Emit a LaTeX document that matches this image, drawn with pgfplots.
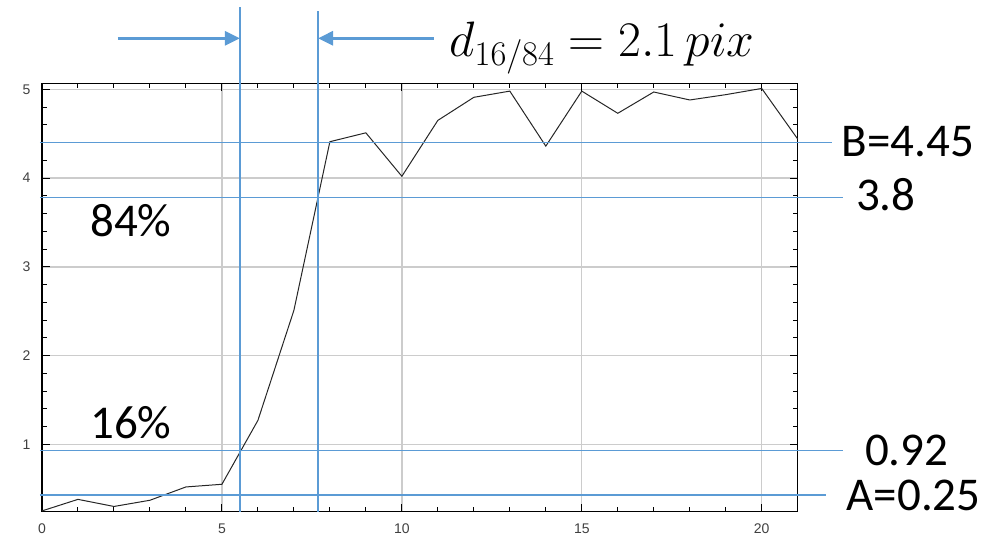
\documentclass[border=0pt]{standalone}
\usepackage{fontspec}
\setmainfont{Carlito}
\newfontfamily\tickfont{Liberation Sans}
\usepackage{pgfplots}
\pgfplotsset{compat=1.18}
\usetikzlibrary{arrows.meta}
\definecolor{annblue}{RGB}{91,155,213}
\definecolor{gridgray}{RGB}{204,204,204}
\definecolor{ticktext}{RGB}{64,64,64}
\begin{document}
\begin{tikzpicture}
\useasboundingbox (-21pt,-15.15pt) rectangle (474.5pt,255.85pt);
\begin{axis}[
  scale only axis, width=377.85pt, height=214.2pt,
  xmin=0, xmax=21, ymin=0.241, ymax=5.068,
  xtick={0,5,10,15,20}, ytick={1,2,3,4,5},
  minor x tick num=4, minor y tick num=4,
  tick align=inside, major tick length=4pt, minor tick length=2.5pt,
  grid=major, major grid style={gridgray, line width=0.7pt},
  axis line style={black, line width=0.7pt},
  tick style={black, line width=0.5pt},
  /pgf/number format/assume math mode=true,
  ticklabel style={font=\tickfont\fontsize{7}{8}\selectfont, text=ticktext},
  xticklabel style={yshift=-2.4pt},
  yticklabel style={xshift=-2.2pt},
  clip=false,
]
\addplot[black!85, line width=0.5pt] coordinates {
(0,0.25) (1,0.38) (2,0.30) (3,0.37) (4,0.52) (5,0.55) (6,1.27) (7,2.51)
(8,4.41) (9,4.51) (10,4.02) (11,4.65) (12,4.91) (13,4.98) (14,4.36)
(15,4.98) (16,4.73) (17,4.97) (18,4.88) (19,4.94) (20,5.01) (21,4.44)};
% annotation lines
\addplot[annblue, line width=0.6pt] coordinates {(5.5,0.241) (5.5,5.93)};
\addplot[annblue, line width=0.6pt] coordinates {(7.67,0.241) (7.67,5.88)};
\addplot[annblue, line width=0.6pt] coordinates {(-0.06,4.40) (21.94,4.40)};
\addplot[annblue, line width=0.6pt] coordinates {(-0.06,3.78) (22.25,3.78)};
\addplot[annblue, line width=0.6pt] coordinates {(-0.06,0.935) (22.25,0.935)};
\addplot[annblue, line width=0.6pt] coordinates {(-0.06,0.43) (21.8,0.43)};
% arrows
\addplot[annblue, line width=1.5pt, -{Triangle[length=7.5pt,width=7pt]}] coordinates {(2.11,5.575) (5.5,5.575)};
\addplot[annblue, line width=1.5pt, -{Triangle[length=7.5pt,width=7pt]}] coordinates {(10.89,5.575) (7.67,5.575)};
% texts
\node[anchor=base west, inner sep=0, font=\fontsize{23.5}{28}\selectfont] at (axis cs:1.33,3.339) {84\%};
\node[anchor=base west, inner sep=0, font=\fontsize{23.5}{28}\selectfont] at (axis cs:1.33,1.071) {16\%};
\node[anchor=base west, inner sep=0, font=\fontsize{23.5}{28}\selectfont] at (axis cs:22.21,4.241) {B=4.45};
\node[anchor=base west, inner sep=0, font=\fontsize{23.5}{28}\selectfont] at (axis cs:22.61,3.640) {3.8};
\node[anchor=base west, inner sep=0, font=\fontsize{23.5}{28}\selectfont] at (axis cs:22.86,0.767) {0.92};
\node[anchor=base west, inner sep=0, font=\fontsize{23.5}{28}\selectfont] at (axis cs:22.35,0.260) {A=0.25};
\node[anchor=base west, inner sep=0, font=\fontsize{24}{28}\selectfont] at (axis cs:11.31,5.367) {$d_{16/84} = 2.1\,pix$};
\end{axis}
\end{tikzpicture}
\end{document}
